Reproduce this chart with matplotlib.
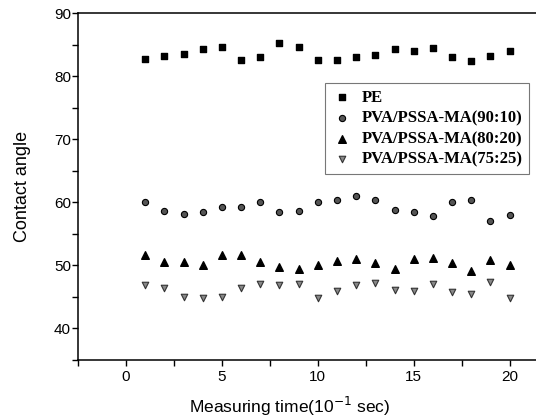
import matplotlib
matplotlib.use('Agg')
import matplotlib.pyplot as plt
from matplotlib.ticker import MultipleLocator

# measuring time points (10^-1 sec)
time = list(range(1, 21))

pe = [82.7, 83.2, 83.5, 84.3, 84.6, 82.5, 83.1, 85.2, 84.6, 82.5,
      82.5, 83.1, 83.4, 84.3, 84.0, 84.4, 83.1, 82.4, 83.2, 84.0]
pva_90_10 = [60.0, 58.6, 58.1, 58.4, 59.2, 59.3, 60.1, 58.4, 58.6, 60.1,
             60.4, 61.0, 60.4, 58.8, 58.4, 57.8, 60.0, 60.3, 57.0, 58.0]
pva_80_20 = [51.6, 50.5, 50.6, 50.1, 51.7, 51.6, 50.5, 49.7, 49.5, 50.1,
             50.7, 51.0, 50.3, 49.5, 51.0, 51.2, 50.4, 49.1, 50.8, 50.0]
pva_75_25 = [46.9, 46.4, 45.0, 44.9, 45.0, 46.4, 47.1, 46.9, 47.1, 44.9,
             45.9, 46.9, 47.2, 46.1, 45.9, 47.1, 45.7, 45.5, 47.3, 44.8]

labels = ['PE', 'PVA/PSSA-MA(90:10)', 'PVA/PSSA-MA(80:20)', 'PVA/PSSA-MA(75:25)']

fig = plt.figure(figsize=(5.36, 4.2), dpi=100)
ax = fig.add_axes([78 / 536, 60 / 420, 470 / 536, 347 / 420])

ax.scatter(time, pe, marker='s', s=16, color='black', label=labels[0])
ax.scatter(time, pva_90_10, marker='o', s=20, facecolor='#555555',
           edgecolor='black', linewidths=0.8, label=labels[1])
ax.scatter(time, pva_80_20, marker='^', s=30, color='black', label=labels[2])
ax.scatter(time, pva_75_25, marker='v', s=22, facecolor='#888888',
           edgecolor='#333333', linewidths=0.8, label=labels[3])

ax.set_xlim(-2.5, 22)
ax.set_ylim(35, 90)
ax.xaxis.set_major_locator(MultipleLocator(5))
ax.xaxis.set_minor_locator(MultipleLocator(2.5))
ax.yaxis.set_major_locator(MultipleLocator(10))
ax.yaxis.set_minor_locator(MultipleLocator(5))
ax.tick_params(which='both', direction='out', length=4, width=1,
               labelsize=11, top=False, right=False)
ax.tick_params(axis='y', which='major', pad=1)
ax.spines['right'].set_visible(False)
for s in ['left', 'bottom', 'top']:
    ax.spines[s].set_linewidth(1.1)

ax.set_xlabel('Measuring time(10$^{-1}$ sec)', fontsize=12.5,
              family='Liberation Sans')
ax.xaxis.set_label_coords((290 - 78) / 470, -0.1)
ax.set_ylabel('Contact angle', fontsize=13, family='Liberation Sans')
ax.yaxis.set_label_coords(-0.1, 0.5)
for t in ax.get_xticklabels() + ax.get_yticklabels():
    t.set_family('Liberation Sans')

leg = ax.legend(loc='upper left', bbox_to_anchor=((325 - 78) / 470, (360 - 83) / 347),
                prop={'family': 'Liberation Serif', 'weight': 'bold', 'size': 12},
                frameon=True, fancybox=False, edgecolor='#555555',
                handletextpad=0.6, borderpad=0.4, labelspacing=0.28,
                handlelength=1.2, scatterpoints=1, borderaxespad=0)
leg.get_frame().set_linewidth(0.8)

fig.savefig('out.png', dpi=100)
